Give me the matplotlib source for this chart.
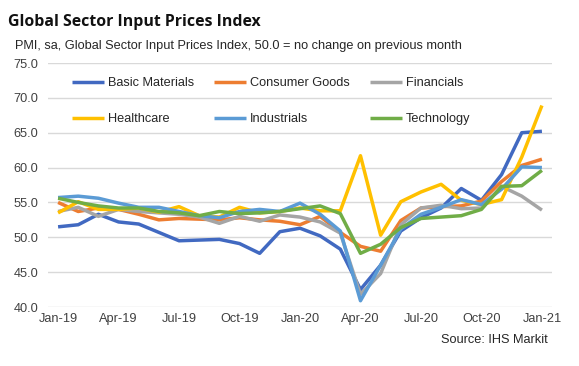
import numpy as np
import matplotlib.pyplot as plt

plt.rcParams['font.family'] = 'Liberation Sans'

months = ['Jan-19', 'Feb-19', 'Mar-19', 'Apr-19', 'May-19', 'Jun-19', 'Jul-19', 'Aug-19',
          'Sep-19', 'Oct-19', 'Nov-19', 'Dec-19', 'Jan-20', 'Feb-20', 'Mar-20', 'Apr-20',
          'May-20', 'Jun-20', 'Jul-20', 'Aug-20', 'Sep-20', 'Oct-20', 'Nov-20', 'Dec-20',
          'Jan-21']

basic_materials = [51.5, 51.8, 53.3, 52.2, 51.9, 50.7, 49.5, 49.6, 49.7, 49.1, 47.7, 50.8, 51.3,
                   50.2, 48.3, 42.5, 46.0, 50.9, 52.8, 54.2, 57.0, 55.3, 59.0, 65.0, 65.2]
consumer_goods = [55.0, 53.7, 54.2, 54.0, 53.3, 52.5, 52.7, 52.6, 52.5, 52.8, 52.5, 52.3, 51.8,
                  53.0, 50.7, 48.7, 48.0, 52.4, 54.2, 54.4, 54.5, 55.2, 58.0, 60.3, 61.2]
financials = [53.7, 54.3, 53.0, 54.0, 53.7, 53.5, 53.3, 52.9, 52.0, 53.0, 52.3, 53.2, 52.9,
              52.2, 50.6, 41.8, 44.8, 51.8, 54.2, 54.6, 54.1, 54.2, 57.3, 55.9, 53.9]
healthcare = [53.5, 55.1, 54.0, 54.0, 54.2, 53.6, 54.4, 53.1, 52.9, 54.3, 53.5, 53.7, 54.2,
              53.8, 53.8, 61.7, 50.3, 55.1, 56.5, 57.6, 55.3, 54.7, 55.4, 61.5, 68.9]
industrials = [55.7, 55.9, 55.6, 54.9, 54.3, 54.3, 53.7, 53.1, 52.8, 53.7, 54.0, 53.7, 54.9,
               53.3, 50.9, 40.9, 46.0, 51.2, 53.3, 54.3, 55.4, 54.7, 56.9, 60.1, 60.0]
technology = [55.6, 55.0, 54.5, 54.2, 54.2, 53.7, 53.5, 53.1, 53.7, 53.4, 53.5, 53.7, 54.1,
              54.5, 53.4, 47.7, 49.0, 51.4, 52.7, 52.9, 53.1, 54.0, 57.3, 57.4, 59.6]

series = [('Basic Materials', basic_materials, '#4169C1'),
          ('Consumer Goods', consumer_goods, '#ED7D31'),
          ('Financials', financials, '#A5A5A5'),
          ('Healthcare', healthcare, '#FFC000'),
          ('Industrials', industrials, '#5B9BD5'),
          ('Technology', technology, '#70AD47')]

fig = plt.figure(figsize=(5.79, 3.66), dpi=100)
ax = fig.add_axes([48/579, 1-307/366, (552-48)/579, (307-63)/366])

x = np.arange(len(months))
handles = {}
for name, vals, col in series:
    ln, = ax.plot(x, vals, color=col, lw=2.5, solid_joinstyle='round', solid_capstyle='butt')
    handles[name] = ln

ax.set_ylim(40, 75)
ax.set_yticks(np.arange(40, 76, 5))
ax.set_yticklabels(['%.1f' % v for v in np.arange(40, 76, 5)])
ax.set_xlim(-0.5, len(months) - 0.5)
ax.set_xticks(x[::3])
ax.set_xticklabels(months[::3])
ax.grid(axis='y', color='#D9D9D9', lw=1)
ax.set_axisbelow(True)
for s in ax.spines.values():
    s.set_visible(False)
ax.tick_params(length=0, labelsize=9.2, colors='#404040', pad=4)
ax.tick_params(axis='y', pad=7)

order = ['Basic Materials', 'Healthcare', 'Consumer Goods', 'Industrials', 'Financials', 'Technology']
leg = fig.legend([handles[n] for n in order], order, ncol=3, loc='upper left',
                 bbox_to_anchor=(72/579, 1-77/366), frameon=False, fontsize=9.2,
                 handlelength=2.5, handletextpad=0.3, columnspacing=1.6,
                 labelspacing=1.9, borderpad=0, borderaxespad=0)
for t in leg.get_texts():
    t.set_color('#262626')

fig.text(8/579, 1-22/366, 'Global Sector Input Prices Index', fontsize=11.4, fontweight='bold',
         family='Open Sans', va='center', ha='left', color='#111111')
fig.text(15/579, 1-46/366, 'PMI, sa, Global Sector Input Prices Index, 50.0 = no change on previous month',
         fontsize=9.2, va='center', ha='left', color='#262626')
fig.text(548/579, 1-340/366, 'Source: IHS Markit', fontsize=9.2, va='center', ha='right',
         color='#262626')

fig.savefig('out.png', dpi=100)
